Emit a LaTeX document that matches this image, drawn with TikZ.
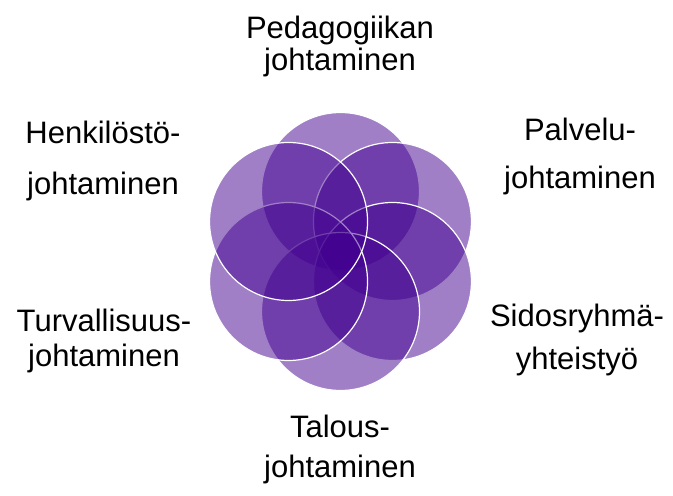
\documentclass[tikz,border=0pt]{standalone}
\usepackage{fontspec}
\setmainfont{Liberation Sans}
\usetikzlibrary{calc}

\begin{document}
\begin{tikzpicture}[x=1pt,y=1pt,
    petal/.style={fill=petalColour, fill opacity=0.5, draw=white, line width=1.2pt},
    areaText/.style={font=\fontsize{31}{35}\selectfont, align=center, anchor=base, inner sep=0pt}]
    \def\petalRadius{79}
    \def\petalOffset{60}
    \definecolor{petalColour}{RGB}{65,0,143}

    % Page size
    \useasboundingbox (0,0) rectangle (673,496);

    % Centre of the flower
    \coordinate (O) at (340.5,244.5);

    % Petals, clockwise from the top
    \foreach \a in {90,30,-30,-90,-150,150}
        \draw[petal] ($(O)+(\a:\petalOffset)$) circle (\petalRadius);

    % Labels (anchored on the baseline of the last line)
    \node[areaText] (pedagogiikka) at (340,425) {Pedagogiikan\\[-3pt]johtaminen};
    \node[areaText] (palvelu) at (580,307) {Palvelu-\\[13pt]johtaminen};
    \node[areaText] (sidosryhma) at (577,126) {Sidosryhmä-\\[8pt]yhteistyö};
    \node[areaText] (talous) at (340,18) {Talous-\\[5pt]johtaminen};
    \node[areaText] (turvallisuus) at (104,129) {Turvallisuus-\\johtaminen};
    \node[areaText] (henkilosto) at (103,301) {Henkilöstö-\\[16pt]johtaminen};

\end{tikzpicture}
\end{document}
